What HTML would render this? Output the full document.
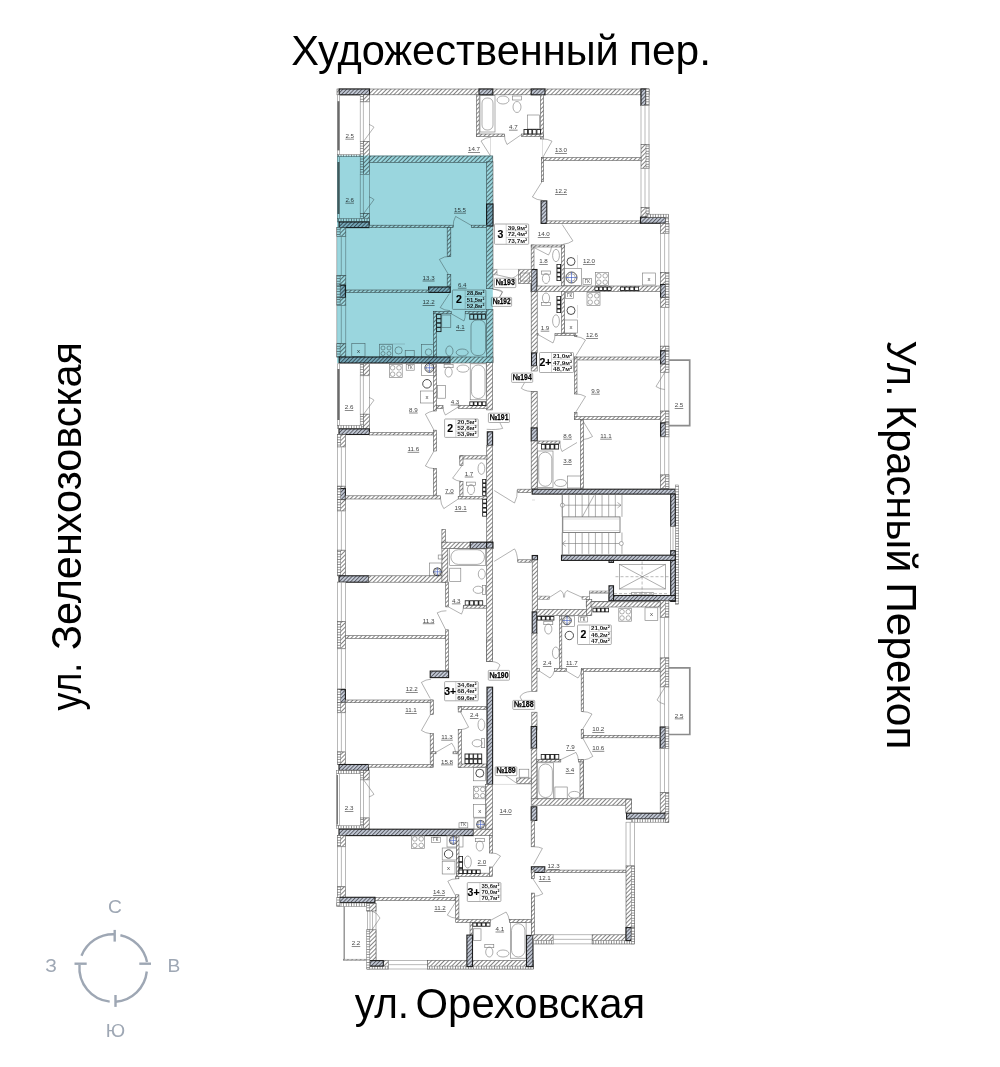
<!DOCTYPE html>
<html><head><meta charset="utf-8"><style>
html,body{margin:0;padding:0;background:#fff;}
body{width:1000px;height:1067px;overflow:hidden;position:relative;}
svg{position:absolute;left:0;top:0;}
.t{font-family:"Liberation Sans",sans-serif;fill:#000;}
.w{fill:url(#hatch);stroke:#5a5a5a;stroke-width:0.6;}
.insv{fill:url(#pinsv);stroke:#6a6a6a;stroke-width:0.5;}
.insh{fill:url(#pinsh);stroke:#6a6a6a;stroke-width:0.5;}
.p{fill:url(#hatch);stroke:#777;stroke-width:0.5;}
.d{fill:url(#dh);stroke:#1e1e1e;stroke-width:1.1;}
.win{fill:#fff;stroke:#8a8a8a;stroke-width:0.6;}
.l{stroke:#8a8a8a;stroke-width:0.6;fill:none;}
.fx{fill:none;stroke:#777;stroke-width:0.6;}
.g{stroke:#555;stroke-width:1.6;}
.g2{stroke:#888;stroke-width:1.3;}
.gl{fill:#6a6a6a;stroke:none;}
.thin{stroke:#bbb;stroke-width:0.5;}
.rad{fill:#fff;stroke:#222;stroke-width:0.9;}
.radb{fill:#222;stroke:none;}
.radi{fill:#fff;stroke:none;}
.fx2{fill:none;stroke:#222;stroke-width:0.8;}
.bl{stroke:#3050c0;stroke-width:0.6;}
.rail{fill:none;stroke:#8c8c8c;stroke-width:1.7;}
.st{stroke:#777;stroke-width:0.6;}
.st2{fill:none;stroke:#777;stroke-width:0.9;}
.dash{stroke:#777;stroke-width:0.5;stroke-dasharray:3 2;}
.gk{font-family:"Liberation Sans",sans-serif;font-size:4.5px;fill:#444;text-anchor:middle;}
.xx{font-family:"Liberation Sans",sans-serif;font-size:6px;fill:#444;text-anchor:middle;}
.dr{fill:none;stroke:#666;stroke-width:0.5;}
.rl{font-family:"Liberation Sans",sans-serif;font-size:6.2px;fill:#444;text-anchor:middle;text-decoration:underline;}
.nb{fill:#fff;stroke:#8a8a8a;stroke-width:0.7;}
.nt{font-family:"Liberation Sans",sans-serif;font-size:8.4px;font-weight:bold;fill:#000;stroke:#000;stroke-width:0.25;text-anchor:middle;}
.ib{fill:#fff;stroke:#888;stroke-width:0.7;}
.ibl{stroke:#aaa;stroke-width:0.5;}
.big{font-family:"Liberation Sans",sans-serif;font-size:10.5px;font-weight:bold;fill:#000;stroke:#000;stroke-width:0.15;text-anchor:middle;}
.it{font-family:"Liberation Sans",sans-serif;font-size:5.6px;font-weight:bold;fill:#222;text-anchor:middle;}
.cmp{stroke:#9ea7b4;stroke-width:2.4;fill:none;}
.ct{font-family:"Liberation Sans",sans-serif;font-size:19.2px;fill:#9ea7b4;text-anchor:middle;}
</style></head><body>
<svg width="1000" height="1067" viewBox="0 0 1000 1067">
<defs>
<pattern id="hatch" patternUnits="userSpaceOnUse" width="3" height="3" patternTransform="rotate(45)">
<rect width="3" height="3" fill="#fff"/><line x1="0.5" y1="0" x2="0.5" y2="3" stroke="#6e6e6e" stroke-width="0.85"/></pattern>
<pattern id="pinsv" patternUnits="userSpaceOnUse" width="3.4" height="2.6">
<rect width="3.4" height="2.6" fill="#fff"/><line x1="0" y1="0.4" x2="3.4" y2="0.4" stroke="#7a7a7a" stroke-width="0.8"/></pattern>
<pattern id="pinsh" patternUnits="userSpaceOnUse" width="2.6" height="3.4">
<rect width="2.6" height="3.4" fill="#fff"/><line x1="0.4" y1="0" x2="0.4" y2="3.4" stroke="#7a7a7a" stroke-width="0.8"/></pattern>
<pattern id="dh" patternUnits="userSpaceOnUse" width="2.7" height="2.7" patternTransform="rotate(45)">
<rect width="2.7" height="2.7" fill="#c3cad6"/><line x1="0.5" y1="0" x2="0.5" y2="2.7" stroke="#4a4d55" stroke-width="0.85"/></pattern>
</defs>
<g id="plan">
<rect x="337" y="89" width="312" height="5.8" class="w"/>
<rect x="339.2" y="89" width="30.3" height="5.8" class="d"/>
<rect x="479" y="89" width="13.8" height="5.8" class="d"/>
<rect x="531.2" y="89" width="13.8" height="5.8" class="d"/>
<rect x="337.4" y="94.8" width="2.2" height="127.2" class="win"/>
<rect x="337.4" y="101.2" width="2.1" height="49.2" class="gl"/>
<rect x="337.4" y="162" width="2.1" height="52" class="gl"/>
<rect x="360.2" y="94.8" width="3.2" height="7.1" class="insv"/>
<rect x="363.4" y="94.8" width="6.0" height="7.1" class="w"/>
<rect x="360.2" y="101.9" width="9.2" height="39.4" class="win"/>
<line x1="363.4" y1="101.9" x2="363.4" y2="141.3" class="l"/>
<rect x="360.2" y="141.3" width="3.2" height="33.0" class="insv"/>
<rect x="363.4" y="141.3" width="6.0" height="33.0" class="w"/>
<rect x="360.2" y="174.3" width="9.2" height="39.3" class="win"/>
<line x1="363.4" y1="174.3" x2="363.4" y2="213.6" class="l"/>
<rect x="360.2" y="213.6" width="3.2" height="8.4" class="insv"/>
<rect x="363.4" y="213.6" width="6.0" height="8.4" class="w"/>
<path d="M363.6,141.3 L374,127.2 A17.5,17.5 0 0 0 369,124.4" class="dr"/>
<path d="M363.6,213.6 L374,199.6 A17.4,17.4 0 0 0 369,196.8" class="dr"/>
<rect x="337.4" y="154.6" width="22.8" height="2.1" class="insh"/>
<rect x="337.4" y="218.6" width="31.9" height="3.0" class="insh"/>
<rect x="339.1" y="222" width="30.1" height="5.6" class="d"/>
<text x="349.7" y="137.8" class="rl">2.5</text>
<text x="349.7" y="201.8" class="rl">2.6</text>
<rect x="476.5" y="94.8" width="2.7" height="41.7" class="w"/>
<rect x="540.5" y="94.8" width="3.0" height="44.2" class="w"/>
<rect x="476.5" y="134" width="28.0" height="2.5" class="w"/>
<rect x="521.5" y="134" width="22.0" height="2.5" class="w"/>
<rect x="480" y="95.5" width="15" height="36.5" class="fx"/>
<rect x="482" y="98" width="11" height="32" rx="5" class="fx"/>
<ellipse cx="503" cy="100" rx="6" ry="4" class="fx"/>
<ellipse cx="517" cy="107" rx="4" ry="5.5" class="fx"/><rect x="512.5" y="96" width="9" height="4" class="fx"/>
<rect x="527.5" y="115" width="12.0" height="14" class="fx"/>
<rect x="524.0" y="129.5" width="3.6" height="4.5" class="rad"/>
<rect x="528.3" y="129.5" width="3.6" height="4.5" class="rad"/>
<rect x="532.6" y="129.5" width="3.6" height="4.5" class="rad"/>
<rect x="536.9" y="129.5" width="3.6" height="4.5" class="rad"/>
<path d="M521.5,134.5 L507,144.5 A17.6,17.6 0 0 1 504.5,134.5" class="dr"/>
<path d="M490.5,156 L481,141 A17.8,17.8 0 0 1 491.5,137" class="dr"/>
<line x1="490.5" y1="137" x2="490.5" y2="156" class="thin"/>
<line x1="542.5" y1="139" x2="542.5" y2="157" class="thin"/>
<path d="M543,157 L552,141.2 A18.2,18.2 0 0 0 542.5,139" class="dr"/>
<text x="474" y="151.1" class="rl">14.7</text>
<text x="513.3" y="128.8" class="rl">4.7</text>
<rect x="369.2" y="156" width="123.6" height="6.3" class="w"/>
<rect x="486.6" y="161.8" width="6.4" height="126.9" class="w"/>
<rect x="486.6" y="309.4" width="6.4" height="53.1" class="w"/>
<rect x="486.6" y="204" width="6.4" height="22" class="d"/>
<rect x="369.2" y="225.2" width="84.0" height="2.4" class="w"/>
<rect x="471.6" y="225.2" width="15.0" height="2.4" class="w"/>
<path d="M471.6,225.6 L455.6,216.4 A18.5,18.5 0 0 0 453.2,226.4" class="dr"/>
<rect x="447.2" y="227.6" width="3.6" height="28.8" class="w"/>
<rect x="447.2" y="274.4" width="3.6" height="12.6" class="w"/>
<path d="M448.4,274.4 L439.4,259.4 A17.5,17.5 0 0 1 450.2,256.4" class="dr"/>
<rect x="428.6" y="287" width="21.6" height="5.4" class="d"/>
<rect x="345.8" y="290" width="82.8" height="2.4" class="w"/>
<rect x="336.8" y="227.6" width="9.0" height="9.0" class="w"/>
<rect x="336.8" y="227.6" width="3.3" height="9.0" class="insv"/>
<rect x="336.8" y="236.6" width="9.0" height="39.0" class="win"/>
<line x1="341.3" y1="236.6" x2="341.3" y2="275.6" class="l"/>
<rect x="336.8" y="275.6" width="9.0" height="9.6" class="w"/>
<rect x="336.8" y="275.6" width="3.3" height="9.6" class="insv"/>
<rect x="336.8" y="285.2" width="9.0" height="12.6" class="w"/>
<rect x="339.6" y="285.2" width="5.8" height="12.6" class="d"/>
<rect x="336.8" y="285.2" width="3.3" height="12.6" class="insv"/>
<rect x="336.8" y="297.8" width="9.0" height="7.6" class="w"/>
<rect x="336.8" y="297.8" width="3.3" height="7.6" class="insv"/>
<rect x="336.8" y="305.4" width="9.0" height="38.4" class="win"/>
<line x1="341.3" y1="305.4" x2="341.3" y2="343.8" class="l"/>
<rect x="336.8" y="343.8" width="9.0" height="13.2" class="w"/>
<rect x="336.8" y="343.8" width="3.3" height="13.2" class="insv"/>
<text x="460" y="211.8" class="rl">15.5</text>
<text x="428.6" y="279.7" class="rl">13.3</text>
<text x="428.6" y="304.1" class="rl">12.2</text>
<text x="462.2" y="286.8" class="rl">6.4</text>
<text x="460.3" y="329.4" class="rl">4.1</text>
<rect x="433.4" y="311.6" width="3.0" height="45.4" class="w"/>
<rect x="433.4" y="311.6" width="17.8" height="2.2" class="w"/>
<rect x="465.2" y="311.3" width="21.4" height="2.5" class="w"/>
<rect x="436.6" y="314.4" width="4.4" height="4.0" class="rad"/>
<rect x="436.6" y="318.79999999999995" width="4.4" height="4.0" class="rad"/>
<rect x="436.6" y="323.2" width="4.4" height="4.0" class="rad"/>
<rect x="436.6" y="327.59999999999997" width="4.4" height="4.0" class="rad"/>
<rect x="441.8" y="315" width="9.0" height="12.6" class="fx"/>
<rect x="469.8" y="314.3" width="3.6" height="4.9" class="rad"/>
<rect x="473.8" y="314.3" width="3.6" height="4.9" class="rad"/>
<rect x="477.8" y="314.3" width="3.6" height="4.9" class="rad"/>
<rect x="481.8" y="314.3" width="3.6" height="4.9" class="rad"/>
<rect x="471" y="320" width="14.5" height="35.5" rx="6" class="fx"/>
<ellipse cx="449.4" cy="351" rx="3.6" ry="5" class="fx"/>
<ellipse cx="462.2" cy="352.5" rx="6" ry="3.5" class="fx"/>
<path d="M449.4,293.6 L440.2,307.6 A16.8,16.8 0 0 0 450,310.6" class="dr"/>
<path d="M451.2,313.7 L464,321 A14.7,14.7 0 0 0 465.2,313.7" class="dr"/>
<rect x="351.8" y="343.6" width="13.2" height="12.8" class="fx"/>
<text x="358.4" y="352.5" class="xx">x</text>
<rect x="379.4" y="344.4" width="13.2" height="12.0" class="fx"/>
<circle cx="383" cy="348" r="2" class="fx"/>
<circle cx="389" cy="348" r="2" class="fx"/>
<circle cx="383" cy="353.5" r="2" class="fx"/>
<circle cx="389" cy="353.5" r="2" class="fx"/>
<circle cx="398.6" cy="350.4" r="3.6" class="fx"/>
<rect x="405.2" y="350.4" width="9.0" height="6.0" class="fx"/>
<rect x="421.4" y="344.4" width="12.0" height="12.6" class="fx"/>
<circle cx="428.6" cy="352.2" r="3.3" class="fx"/>
<line x1="379.4" y1="344" x2="405" y2="344" class="thin"/>
<rect x="339.2" y="357" width="111.0" height="6" class="d"/>
<rect x="450.2" y="357" width="42.8" height="6" class="w"/>
<rect x="452.4" y="290" width="33.5" height="19.4" rx="0.8" class="ib"/>
<line x1="465.2" y1="290" x2="465.2" y2="309.4" class="ibl"/>
<line x1="465.2" y1="296.46666666666664" x2="485.9" y2="296.46666666666664" class="ibl"/>
<line x1="465.2" y1="302.93333333333334" x2="485.9" y2="302.93333333333334" class="ibl"/>
<text x="458.79999999999995" y="303.3" class="big">2</text>
<text x="475.54999999999995" y="295.26666666666665" class="it" textLength="17.7" lengthAdjust="spacingAndGlyphs">28,8м²</text>
<text x="475.54999999999995" y="301.73333333333335" class="it" textLength="17.7" lengthAdjust="spacingAndGlyphs">51,5м²</text>
<text x="475.54999999999995" y="308.2" class="it" textLength="17.7" lengthAdjust="spacingAndGlyphs">52,8м²</text>
<path d="M492.6,288.7 L502.3,291.8 A10.2,10.2 0 0 1 499.3,297.2" class="dr"/>
<rect x="641" y="89" width="8" height="16.5" class="w"/>
<rect x="641" y="89" width="5" height="16.5" class="d"/>
<rect x="646" y="89" width="3" height="16.5" class="insv"/>
<rect x="641" y="105.5" width="8" height="39.0" class="win"/>
<line x1="645.0" y1="105.5" x2="645.0" y2="144.5" class="l"/>
<rect x="641" y="144.5" width="8" height="24.0" class="w"/>
<rect x="646" y="144.5" width="3" height="24.0" class="insv"/>
<rect x="641" y="168.5" width="8" height="39.0" class="win"/>
<line x1="645.0" y1="168.5" x2="645.0" y2="207.5" class="l"/>
<rect x="641" y="207.5" width="8" height="9.7" class="w"/>
<rect x="646" y="207.5" width="3" height="9.7" class="insv"/>
<rect x="541.4" y="157.6" width="99.6" height="2.8" class="w"/>
<rect x="541.4" y="157.6" width="2.2" height="24.1" class="w"/>
<rect x="541.1" y="200.9" width="5.7" height="22.5" class="d"/>
<rect x="546.8" y="220.9" width="94.2" height="2.5" class="w"/>
<rect x="640.5" y="217.2" width="28.2" height="6.0" class="w"/>
<rect x="640.5" y="217.2" width="25.2" height="6.0" class="d"/>
<rect x="665.7" y="217.2" width="3.0" height="6.0" class="insv"/>
<text x="561" y="152.0" class="rl">13.0</text>
<text x="561" y="193.0" class="rl">12.2</text>
<text x="543.8" y="236.3" class="rl">14.0</text>
<path d="M542,181.7 L532.4,197 A18.1,18.1 0 0 0 542.5,200.3" class="dr"/>
<path d="M562.2,224.5 L572.9,240.8 A19.5,19.5 0 0 1 563.3,244.2" class="dr"/>
<rect x="494.5" y="224" width="34.2" height="20.3" rx="0.8" class="ib"/>
<line x1="506.2" y1="224" x2="506.2" y2="244.3" class="ibl"/>
<line x1="506.2" y1="230.76666666666668" x2="528.7" y2="230.76666666666668" class="ibl"/>
<line x1="506.2" y1="237.53333333333333" x2="528.7" y2="237.53333333333333" class="ibl"/>
<text x="500.35" y="237.75" class="big">3</text>
<text x="517.45" y="229.5666666666667" class="it" textLength="19.5" lengthAdjust="spacingAndGlyphs">39,9м²</text>
<text x="517.45" y="236.33333333333334" class="it" textLength="19.5" lengthAdjust="spacingAndGlyphs">72,4м²</text>
<text x="517.45" y="243.10000000000002" class="it" textLength="19.5" lengthAdjust="spacingAndGlyphs">73,7м²</text>
<rect x="647" y="214.2" width="21.7" height="3.0" class="insh"/>
<rect x="660.3" y="223.5" width="8.6" height="10.0" class="w"/>
<rect x="665.5" y="223.5" width="3.4" height="10.0" class="insv"/>
<rect x="660.3" y="233.5" width="8.6" height="39.0" class="win"/>
<line x1="664.5999999999999" y1="233.5" x2="664.5999999999999" y2="272.5" class="l"/>
<rect x="660.3" y="272.5" width="8.6" height="12.0" class="w"/>
<rect x="665.5" y="272.5" width="3.4" height="12.0" class="insv"/>
<rect x="660.3" y="284.5" width="8.6" height="13.2" class="w"/>
<rect x="660.6" y="284.5" width="4.9" height="13.2" class="d"/>
<rect x="665.5" y="284.5" width="3.4" height="13.2" class="insv"/>
<rect x="660.3" y="297.7" width="8.6" height="9.8" class="w"/>
<rect x="665.5" y="297.7" width="3.4" height="9.8" class="insv"/>
<rect x="660.3" y="307.5" width="8.6" height="38.7" class="win"/>
<line x1="664.5999999999999" y1="307.5" x2="664.5999999999999" y2="346.2" class="l"/>
<rect x="660.3" y="346.2" width="8.6" height="4.6" class="w"/>
<rect x="665.5" y="346.2" width="3.4" height="4.6" class="insv"/>
<rect x="660.3" y="350.8" width="8.6" height="13.4" class="w"/>
<rect x="660.6" y="350.8" width="4.9" height="13.4" class="d"/>
<rect x="665.5" y="350.8" width="3.4" height="13.4" class="insv"/>
<rect x="660.3" y="364.2" width="8.6" height="8.3" class="w"/>
<rect x="665.5" y="364.2" width="3.4" height="8.3" class="insv"/>
<rect x="660.3" y="372.5" width="8.6" height="38.6" class="win"/>
<line x1="664.5999999999999" y1="372.5" x2="664.5999999999999" y2="411.1" class="l"/>
<rect x="660.3" y="411.1" width="8.6" height="11.9" class="w"/>
<rect x="665.5" y="411.1" width="3.4" height="11.9" class="insv"/>
<rect x="660.3" y="423" width="8.6" height="13.9" class="w"/>
<rect x="660.6" y="423" width="4.9" height="13.9" class="d"/>
<rect x="665.5" y="423" width="3.4" height="13.9" class="insv"/>
<rect x="660.3" y="436.9" width="8.6" height="38.1" class="win"/>
<line x1="664.5999999999999" y1="436.9" x2="664.5999999999999" y2="475" class="l"/>
<rect x="660.3" y="475" width="8.6" height="13.5" class="w"/>
<rect x="665.5" y="475" width="3.4" height="13.5" class="insv"/>
<path d="M664.7,372.5 L656,386.5 A16.5,16.5 0 0 0 664.7,389.5" class="dr"/>
<rect x="531.2" y="245" width="2.8" height="24.5" class="w"/>
<rect x="531.2" y="269.5" width="5.8" height="22.0" class="d"/>
<rect x="531.2" y="291.5" width="6.0" height="61.5" class="w"/>
<rect x="531.5" y="353" width="5.0" height="13" class="d"/>
<rect x="531.2" y="366" width="6.0" height="5" class="w"/>
<rect x="531.2" y="391.5" width="6.0" height="36.5" class="w"/>
<rect x="531.2" y="428" width="6.0" height="13" class="d"/>
<rect x="531.2" y="441" width="6.0" height="48" class="w"/>
<rect x="531.2" y="245" width="33.3" height="2" class="w"/>
<rect x="561.5" y="245" width="3.0" height="41" class="w"/>
<rect x="537" y="286" width="123.3" height="5.5" class="w"/>
<rect x="594.5" y="286.6" width="17.0" height="4.3" class="radb"/>
<rect x="595.3" y="287.5" width="2.65" height="2.5" class="radi"/>
<rect x="599.55" y="287.5" width="2.65" height="2.5" class="radi"/>
<rect x="603.8" y="287.5" width="2.65" height="2.5" class="radi"/>
<rect x="608.05" y="287.5" width="2.65" height="2.5" class="radi"/>
<rect x="620" y="286.6" width="19" height="4.3" class="radb"/>
<rect x="620.8" y="287.5" width="3.15" height="2.5" class="radi"/>
<rect x="625.55" y="287.5" width="3.15" height="2.5" class="radi"/>
<rect x="630.3" y="287.5" width="3.15" height="2.5" class="radi"/>
<rect x="635.05" y="287.5" width="3.15" height="2.5" class="radi"/>
<rect x="561.5" y="291.5" width="3.0" height="42.5" class="w"/>
<rect x="537.2" y="333.5" width="0.8" height="2.0" class="w"/>
<rect x="555" y="333.5" width="20.5" height="2.0" class="w"/>
<path d="M534,247.5 L548.5,255 A16.3,16.3 0 0 0 551.5,246.8" class="dr"/>
<ellipse cx="556" cy="255.5" rx="3.4" ry="6.2" class="fx"/>
<g transform="translate(546,277.5) rotate(0)"><ellipse cx="0" cy="1" rx="3.6" ry="5" class="fx"/><rect x="-4.5" y="-6.5" width="9" height="3.2" class="fx"/></g>
<rect x="556.5" y="264" width="4.5" height="17" class="radb"/>
<rect x="557.4" y="264.8" width="2.7" height="2.65" class="radi"/>
<rect x="557.4" y="269.05" width="2.7" height="2.65" class="radi"/>
<rect x="557.4" y="273.3" width="2.7" height="2.65" class="radi"/>
<rect x="557.4" y="277.55" width="2.7" height="2.65" class="radi"/>
<circle cx="571" cy="261.5" r="4" class="fx2"/>
<line x1="577.5" y1="255" x2="577.5" y2="268" class="thin"/>
<rect x="564" y="268.5" width="17.5" height="17.0" class="fx"/>
<circle cx="571.5" cy="277.5" r="5.5" class="fx2"/><circle cx="571.5" cy="277.5" r="3.8" class="fx"/><line x1="566.0" y1="277.5" x2="577.0" y2="277.5" class="bl"/><line x1="571.5" y1="272.0" x2="571.5" y2="283.0" class="bl"/>
<rect x="583" y="278.5" width="8.5" height="6.0" class="fx"/>
<text x="587.25" y="283.0" class="gk">ГК</text>
<rect x="565.5" y="292.5" width="8.0" height="6.0" class="fx"/>
<text x="569.5" y="297.0" class="gk">ГК</text>
<rect x="595.5" y="272.5" width="13.0" height="13.0" class="fx"/>
<circle cx="598.8" cy="275.8" r="2.3" class="fx"/>
<circle cx="598.8" cy="282.2" r="2.3" class="fx"/>
<circle cx="605.2" cy="275.8" r="2.3" class="fx"/>
<circle cx="605.2" cy="282.2" r="2.3" class="fx"/>
<rect x="587" y="292.5" width="13" height="13.0" class="fx"/>
<circle cx="590.2" cy="295.8" r="2.3" class="fx"/>
<circle cx="590.2" cy="302.2" r="2.3" class="fx"/>
<circle cx="596.8" cy="295.8" r="2.3" class="fx"/>
<circle cx="596.8" cy="302.2" r="2.3" class="fx"/>
<rect x="642.5" y="273" width="13.0" height="12" class="fx"/>
<text x="649.0" y="281.0" class="xx">x</text>
<g transform="translate(546,299) rotate(180)"><ellipse cx="0" cy="1" rx="3.6" ry="5" class="fx"/><rect x="-4.5" y="-6.5" width="9" height="3.2" class="fx"/></g>
<rect x="556.5" y="296" width="4.5" height="17" class="radb"/>
<rect x="557.4" y="296.8" width="2.7" height="2.65" class="radi"/>
<rect x="557.4" y="301.05" width="2.7" height="2.65" class="radi"/>
<rect x="557.4" y="305.3" width="2.7" height="2.65" class="radi"/>
<rect x="557.4" y="309.55" width="2.7" height="2.65" class="radi"/>
<ellipse cx="556" cy="321" rx="3.4" ry="6.2" class="fx"/>
<circle cx="571" cy="310.5" r="4" class="fx2"/>
<line x1="577.5" y1="305" x2="577.5" y2="318" class="thin"/>
<rect x="564.5" y="320" width="13.0" height="13" class="fx"/>
<text x="571.0" y="328.5" class="xx">x</text>
<path d="M538,334.5 L553,343 A17.2,17.2 0 0 0 555,334.5" class="dr"/>
<text x="543.5" y="263.3" class="rl">1.8</text>
<text x="589" y="263.3" class="rl">12.0</text>
<text x="545" y="329.8" class="rl">1.9</text>
<text x="592" y="337.3" class="rl">12.6</text>
<rect x="574.5" y="335.5" width="2.5" height="1.0" class="w"/>
<path d="M576,355.5 L585.5,340 A18.2,18.2 0 0 0 575.5,336.5" class="dr"/>
<rect x="574.5" y="357" width="85.8" height="3" class="w"/>
<rect x="574.5" y="357" width="2.5" height="37" class="w"/>
<rect x="574.5" y="412.5" width="2.5" height="7.0" class="w"/>
<path d="M575.5,412.5 L585.5,396.5 A18.9,18.9 0 0 0 576,394" class="dr"/>
<rect x="574.5" y="416.5" width="85.8" height="3.0" class="w"/>
<rect x="580.5" y="419.5" width="3.0" height="69.0" class="w"/>
<path d="M582,419.5 L592.5,436.5 A20.0,20.0 0 0 1 583,439.5" class="dr"/>
<text x="595.5" y="392.8" class="rl">9.9</text>
<text x="567.5" y="437.8" class="rl">8.6</text>
<text x="606" y="437.8" class="rl">11.1</text>
<text x="567.5" y="463.1" class="rl">3.8</text>
<rect x="539.5" y="352.5" width="34.0" height="20.0" rx="0.8" class="ib"/>
<line x1="551.5" y1="352.5" x2="551.5" y2="372.5" class="ibl"/>
<line x1="551.5" y1="359.1666666666667" x2="573.5" y2="359.1666666666667" class="ibl"/>
<line x1="551.5" y1="365.8333333333333" x2="573.5" y2="365.8333333333333" class="ibl"/>
<text x="545.5" y="366.1" class="big">2+</text>
<text x="562.5" y="357.9666666666667" class="it" textLength="19.0" lengthAdjust="spacingAndGlyphs">21,0м²</text>
<text x="562.5" y="364.6333333333333" class="it" textLength="19.0" lengthAdjust="spacingAndGlyphs">47,9м²</text>
<text x="562.5" y="371.3" class="it" textLength="19.0" lengthAdjust="spacingAndGlyphs">48,7м²</text>
<rect x="537.2" y="441" width="22.8" height="2.5" class="w"/>
<rect x="541" y="444" width="18" height="5.5" class="radb"/>
<rect x="541.8" y="444.9" width="2.9" height="3.7" class="radi"/>
<rect x="546.3" y="444.9" width="2.9" height="3.7" class="radi"/>
<rect x="550.8" y="444.9" width="2.9" height="3.7" class="radi"/>
<rect x="555.3" y="444.9" width="2.9" height="3.7" class="radi"/>
<path d="M577,442.5 L562,451.5 A17.5,17.5 0 0 1 560,443.5" class="dr"/>
<rect x="537.5" y="451" width="15.5" height="36.5" class="fx"/>
<rect x="538.7" y="452.2" width="13.1" height="34.1" rx="6.5" class="fx"/>
<ellipse cx="560.5" cy="483" rx="6" ry="3.5" class="fx"/>
<rect x="567.5" y="476" width="13.0" height="12" class="fx"/>
<path d="M668.9,360.1 H689.7 V425.6 H668.9" class="rail"/>
<text x="679" y="407.1" class="rl">2.5</text>
<rect x="492.9" y="269.6" width="4.1" height="5.3" class="p"/>
<rect x="518.4" y="269.6" width="13.1" height="13.9" class="w"/>
<rect x="520.5" y="273" width="9.0" height="8" class="fx"/>
<line x1="520.5" y1="277" x2="529.5" y2="277" class="thin"/>
<line x1="492.5" y1="269.3" x2="531.5" y2="269.3" class="thin"/>
<path d="M497,274.9 L512,278.3 A15.4,15.4 0 0 0 518.4,274.1" class="dr"/>
<path d="M492.6,289.5 Q500,289 502.6,291.8 L499.3,297.4" class="dr"/>
<rect x="494.4" y="278.3" width="21.4" height="9.3" rx="0.8" class="nb"/>
<text x="505.09999999999997" y="285.1" class="nt" textLength="19.4" lengthAdjust="spacingAndGlyphs">№193</text>
<rect x="491.4" y="297.4" width="20.2" height="9.0" rx="0.8" class="nb"/>
<text x="501.5" y="303.9" class="nt" textLength="18.2" lengthAdjust="spacingAndGlyphs">№192</text>
<rect x="486.7" y="362.6" width="5.9" height="47.3" class="w"/>
<rect x="487.3" y="431.8" width="5.3" height="13.6" class="d"/>
<rect x="486.7" y="445.4" width="5.9" height="96.9" class="w"/>
<path d="M486.7,429.3 Q497,430 502.7,428.4 L499.8,422.5" class="dr"/>
<rect x="488.4" y="413.2" width="21.1" height="9.3" rx="0.8" class="nb"/>
<text x="498.95" y="420.0" class="nt" textLength="19.1" lengthAdjust="spacingAndGlyphs">№191</text>
<path d="M536.9,391.7 Q526,392 521.3,388.3 L524.7,382.4" class="dr"/>
<rect x="511.6" y="373.1" width="21.1" height="9.3" rx="0.8" class="nb"/>
<text x="522.1500000000001" y="379.9" class="nt" textLength="19.1" lengthAdjust="spacingAndGlyphs">№194</text>
<rect x="337.4" y="363.8" width="2.2" height="61.6" class="win"/>
<rect x="337.4" y="369" width="2.1" height="51" class="gl"/>
<rect x="360.2" y="363.8" width="3.2" height="12.0" class="insv"/>
<rect x="363.4" y="363.8" width="6.0" height="12.0" class="w"/>
<rect x="360.2" y="375.8" width="9.2" height="38.4" class="win"/>
<line x1="363.4" y1="375.8" x2="363.4" y2="414.2" class="l"/>
<rect x="360.2" y="414.2" width="3.2" height="14.7" class="insv"/>
<rect x="363.4" y="414.2" width="6.0" height="14.7" class="w"/>
<path d="M363.6,414.2 L374,400.2 A17.4,17.4 0 0 0 369,397.4" class="dr"/>
<rect x="337.4" y="425.4" width="24.0" height="3.2" class="insh"/>
<rect x="339" y="428.9" width="30.4" height="5.6" class="d"/>
<rect x="337.4" y="434.5" width="8.0" height="12.5" class="w"/>
<rect x="337.4" y="434.5" width="3.3" height="12.5" class="insv"/>
<rect x="337.4" y="447" width="8.0" height="39.2" class="win"/>
<line x1="341.4" y1="447" x2="341.4" y2="486.2" class="l"/>
<rect x="337.4" y="486.2" width="8.0" height="2.4" class="w"/>
<rect x="337.4" y="486.2" width="3.3" height="2.4" class="insv"/>
<rect x="337.4" y="488.6" width="8.0" height="11.2" class="w"/>
<rect x="339.6" y="488.6" width="5.8" height="11.2" class="d"/>
<rect x="337.4" y="488.6" width="3.3" height="11.2" class="insv"/>
<rect x="337.4" y="499.8" width="8.0" height="11.2" class="w"/>
<rect x="337.4" y="499.8" width="3.3" height="11.2" class="insv"/>
<rect x="337.4" y="511" width="8.0" height="39.2" class="win"/>
<line x1="341.4" y1="511" x2="341.4" y2="550.2" class="l"/>
<rect x="337.4" y="550.2" width="8.0" height="25.6" class="w"/>
<rect x="337.4" y="550.2" width="3.3" height="25.6" class="insv"/>
<rect x="369.4" y="432.6" width="64.0" height="2.4" class="w"/>
<rect x="433.4" y="363.8" width="3.2" height="47.2" class="w"/>
<rect x="433.4" y="430.2" width="3.2" height="20.8" class="w"/>
<rect x="433.4" y="468.6" width="3.2" height="28.0" class="w"/>
<path d="M434,430.2 L425.4,414.2 A18.2,18.2 0 0 1 433.4,411" class="dr"/>
<path d="M434,451 L425.4,466 A17.3,17.3 0 0 0 434,468.6" class="dr"/>
<rect x="345.4" y="495.8" width="95.2" height="3.2" class="w"/>
<rect x="458.2" y="496.6" width="28.8" height="2.4" class="w"/>
<path d="M458.2,499 L443.8,508.6 A17.3,17.3 0 0 1 440.6,499" class="dr"/>
<rect x="436.6" y="405.4" width="6.4" height="3.2" class="w"/>
<rect x="458.2" y="405.4" width="28.8" height="3.2" class="w"/>
<rect x="469.4" y="401.4" width="16.8" height="4.5" class="radb"/>
<rect x="470.2" y="402.29999999999995" width="2.6" height="2.7" class="radi"/>
<rect x="474.4" y="402.29999999999995" width="2.6" height="2.7" class="radi"/>
<rect x="478.6" y="402.29999999999995" width="2.6" height="2.7" class="radi"/>
<rect x="482.8" y="402.29999999999995" width="2.6" height="2.7" class="radi"/>
<rect x="470.2" y="363.8" width="16.0" height="36.0" class="fx"/>
<rect x="471.4" y="365.0" width="13.6" height="33.6" rx="6.8" class="fx"/>
<g transform="translate(448.6,371) rotate(0)"><ellipse cx="0" cy="1" rx="3.6" ry="5" class="fx"/><rect x="-4.5" y="-6.5" width="9" height="3.2" class="fx"/></g>
<ellipse cx="463" cy="368.6" rx="6" ry="3.6" class="fx"/>
<rect x="437.4" y="385.4" width="8.0" height="12.8" class="fx"/>
<path d="M458.2,407 L445.4,415 A15.1,15.1 0 0 1 443,407" class="dr"/>
<rect x="389.4" y="364.6" width="12.8" height="12.8" class="fx"/>
<circle cx="392.6" cy="367.8" r="2.3" class="fx"/>
<circle cx="392.6" cy="374.2" r="2.3" class="fx"/>
<circle cx="399.0" cy="367.8" r="2.3" class="fx"/>
<circle cx="399.0" cy="374.2" r="2.3" class="fx"/>
<rect x="406.2" y="364.6" width="8.0" height="5.6" class="fx"/>
<text x="410.2" y="368.7" class="gk">ГК</text>
<rect x="421.4" y="363.8" width="14.4" height="11.7" class="fx"/>
<circle cx="429.4" cy="367.8" r="4.5" class="fx2"/><circle cx="429.4" cy="367.8" r="3.1" class="fx"/><line x1="424.9" y1="367.8" x2="433.9" y2="367.8" class="bl"/><line x1="429.4" y1="363.3" x2="429.4" y2="372.3" class="bl"/>
<circle cx="427" cy="383.8" r="4.3" class="fx2"/>
<rect x="420.6" y="391" width="12.8" height="12" class="fx"/>
<text x="427.0" y="399.0" class="xx">x</text>
<rect x="459.8" y="455.8" width="27.2" height="3.2" class="w"/>
<rect x="459.8" y="455.8" width="3.2" height="9.6" class="w"/>
<rect x="459.8" y="481.4" width="3.2" height="15.2" class="w"/>
<ellipse cx="481.4" cy="468.6" rx="3.4" ry="5.8" class="fx"/>
<g transform="translate(471,488.6) rotate(0)"><ellipse cx="0" cy="1" rx="3.6" ry="5" class="fx"/><rect x="-4.5" y="-6.5" width="9" height="3.2" class="fx"/></g>
<rect x="482.2" y="479" width="4.0" height="16.8" class="radb"/>
<rect x="483.09999999999997" y="479.8" width="2.2" height="2.6" class="radi"/>
<rect x="483.09999999999997" y="484.0" width="2.2" height="2.6" class="radi"/>
<rect x="483.09999999999997" y="488.2" width="2.2" height="2.6" class="radi"/>
<rect x="483.09999999999997" y="492.4" width="2.2" height="2.6" class="radi"/>
<path d="M462.2,465.4 L452.6,478.2 A16.0,16.0 0 0 0 461.4,481.4" class="dr"/>
<rect x="444.6" y="419" width="33.6" height="18.4" rx="0.8" class="ib"/>
<line x1="455.8" y1="419" x2="455.8" y2="437.4" class="ibl"/>
<line x1="455.8" y1="425.1333333333333" x2="478.2" y2="425.1333333333333" class="ibl"/>
<line x1="455.8" y1="431.26666666666665" x2="478.2" y2="431.26666666666665" class="ibl"/>
<text x="450.20000000000005" y="431.8" class="big">2</text>
<text x="467.0" y="423.93333333333334" class="it" textLength="19.4" lengthAdjust="spacingAndGlyphs">20,5м²</text>
<text x="467.0" y="430.06666666666666" class="it" textLength="19.4" lengthAdjust="spacingAndGlyphs">52,6м²</text>
<text x="467.0" y="436.2" class="it" textLength="19.4" lengthAdjust="spacingAndGlyphs">53,9м²</text>
<text x="349.1" y="409.3" class="rl">2.6</text>
<text x="413.4" y="411.7" class="rl">8.9</text>
<text x="413.4" y="450.9" class="rl">11.6</text>
<text x="455" y="403.7" class="rl">4.3</text>
<text x="469" y="475.7" class="rl">1.7</text>
<text x="449.4" y="492.5" class="rl">7.0</text>
<text x="460.6" y="510.1" class="rl">19.1</text>
<rect x="482.2" y="499" width="4.8" height="17.6" class="radb"/>
<rect x="483.09999999999997" y="499.8" width="3.0" height="2.8" class="radi"/>
<rect x="483.09999999999997" y="504.2" width="3.0" height="2.8" class="radi"/>
<rect x="483.09999999999997" y="508.6" width="3.0" height="2.8" class="radi"/>
<rect x="483.09999999999997" y="513.0" width="3.0" height="2.8" class="radi"/>
<rect x="339" y="575.8" width="29.6" height="6.4" class="d"/>
<rect x="368.6" y="575.8" width="78.4" height="6.4" class="w"/>
<rect x="441.9" y="542.2" width="5.9" height="40.0" class="w"/>
<rect x="441.9" y="529.4" width="3.5" height="12.8" class="w"/>
<rect x="441.9" y="542.2" width="50.7" height="6.4" class="w"/>
<rect x="470.2" y="542.2" width="22.4" height="6.4" class="d"/>
<rect x="486.6" y="542.3" width="6.3" height="5.9" class="d"/>
<rect x="429.4" y="563" width="12.5" height="12.8" class="fx"/>
<circle cx="437.4" cy="571.8" r="4" class="fx2"/><circle cx="437.4" cy="571.8" r="2.8" class="fx"/><line x1="433.4" y1="571.8" x2="441.4" y2="571.8" class="bl"/><line x1="437.4" y1="567.8" x2="437.4" y2="575.8" class="bl"/>
<rect x="438.2" y="555" width="4.0" height="4" class="fx"/>
<rect x="449.7" y="548.5" width="36.0" height="17.1" class="fx"/>
<rect x="450.9" y="549.7" width="33.6" height="14.7" rx="7.4" class="fx"/>
<rect x="449.7" y="568.2" width="11.1" height="13.1" class="fx"/>
<ellipse cx="481.8" cy="574.1" rx="3.5" ry="5" class="fx"/>
<g transform="translate(479.2,589.8) rotate(90)"><ellipse cx="0" cy="1" rx="3.6" ry="5" class="fx"/><rect x="-4.5" y="-6.5" width="9" height="3.2" class="fx"/></g>
<rect x="464.8" y="600.3" width="18.3" height="5.3" class="radb"/>
<rect x="465.6" y="601.1999999999999" width="2.97" height="3.5" class="radi"/>
<rect x="470.18" y="601.1999999999999" width="2.97" height="3.5" class="radi"/>
<rect x="474.75" y="601.1999999999999" width="2.98" height="3.5" class="radi"/>
<rect x="479.33" y="601.1999999999999" width="2.97" height="3.5" class="radi"/>
<rect x="463.4" y="605.6" width="23.2" height="2.6" class="w"/>
<rect x="445.7" y="582.2" width="2.7" height="24.7" class="w"/>
<rect x="445.7" y="629.8" width="2.7" height="41.3" class="w"/>
<path d="M448.4,606.9 L461.5,614.1 A14.9,14.9 0 0 0 463.4,606.2" class="dr"/>
<path d="M445.7,629.8 L437.2,612.8 A19.0,19.0 0 0 1 446.4,610.8" class="dr"/>
<rect x="345.4" y="635.7" width="100.3" height="2.7" class="w"/>
<rect x="486.6" y="548.2" width="6.0" height="113.1" class="w"/>
<text x="456.2" y="602.6" class="rl">4.3</text>
<text x="428.6" y="622.5" class="rl">11.3</text>
<rect x="337.4" y="582.2" width="8.0" height="0.1" class="w"/>
<rect x="337.4" y="582.2" width="3.3" height="0.1" class="insv"/>
<rect x="337.4" y="582.2" width="8.0" height="39.2" class="win"/>
<line x1="341.4" y1="582.2" x2="341.4" y2="621.4" class="l"/>
<rect x="337.4" y="621.4" width="8.0" height="27.4" class="w"/>
<rect x="337.4" y="621.4" width="3.3" height="27.4" class="insv"/>
<rect x="337.4" y="648.8" width="8.0" height="40.0" class="win"/>
<line x1="341.4" y1="648.8" x2="341.4" y2="688.8" class="l"/>
<rect x="337.4" y="689.6" width="8.0" height="12.8" class="w"/>
<rect x="339.6" y="689.6" width="5.8" height="12.8" class="d"/>
<rect x="337.4" y="689.6" width="3.3" height="12.8" class="insv"/>
<rect x="337.4" y="702.4" width="8.0" height="10.4" class="w"/>
<rect x="337.4" y="702.4" width="3.3" height="10.4" class="insv"/>
<rect x="337.4" y="712.8" width="8.0" height="39.2" class="win"/>
<line x1="341.4" y1="712.8" x2="341.4" y2="752" class="l"/>
<rect x="337.4" y="752" width="8.0" height="12.5" class="w"/>
<rect x="337.4" y="752" width="3.3" height="12.5" class="insv"/>
<rect x="430.2" y="671.1" width="18.4" height="6.5" class="d"/>
<path d="M430.2,698.4 L421.4,682.4 A18.3,18.3 0 0 1 431,679.2" class="dr"/>
<rect x="345.4" y="700" width="87.2" height="2.7" class="w"/>
<rect x="430.2" y="700" width="3.2" height="14.4" class="w"/>
<rect x="430.2" y="733.6" width="3.2" height="33.6" class="w"/>
<path d="M430.5,714.4 L421.4,730.4 A18.4,18.4 0 0 0 430.2,733.6" class="dr"/>
<rect x="339" y="764.5" width="29.6" height="5.9" class="d"/>
<rect x="368.6" y="764.5" width="64.0" height="2.7" class="w"/>
<rect x="431" y="751.8" width="5" height="2.0" class="w"/>
<rect x="453" y="751.8" width="5.2" height="2.0" class="w"/>
<path d="M435,752.8 L451.8,743.2 A19.3,19.3 0 0 1 455.8,752.8" class="dr"/>
<rect x="458.2" y="706.4" width="28.0" height="3.2" class="w"/>
<rect x="458.2" y="706.4" width="3.2" height="5.6" class="w"/>
<rect x="458.2" y="729.6" width="3.2" height="37.6" class="w"/>
<rect x="458.2" y="764" width="28.8" height="3.2" class="w"/>
<path d="M460.6,712 L468.6,727.2 A17.2,17.2 0 0 1 461,729.6" class="dr"/>
<ellipse cx="481.4" cy="724.8" rx="3.4" ry="5.8" class="fx"/>
<g transform="translate(478.2,743.2) rotate(90)"><ellipse cx="0" cy="1" rx="3.6" ry="5" class="fx"/><rect x="-4.5" y="-6.5" width="9" height="3.2" class="fx"/></g>
<rect x="465.0" y="754.0" width="3.8" height="4.4" class="rad"/>
<rect x="469.3" y="754.0" width="3.8" height="4.4" class="rad"/>
<rect x="473.6" y="754.0" width="3.8" height="4.4" class="rad"/>
<rect x="477.9" y="754.0" width="3.8" height="4.4" class="rad"/>
<rect x="465.0" y="759.2" width="3.8" height="4.4" class="rad"/>
<rect x="469.3" y="759.2" width="3.8" height="4.4" class="rad"/>
<rect x="473.6" y="759.2" width="3.8" height="4.4" class="rad"/>
<rect x="477.9" y="759.2" width="3.8" height="4.4" class="rad"/>
<rect x="486.6" y="640" width="6.0" height="21.3" class="w"/>
<rect x="487" y="687.2" width="5.6" height="97.2" class="d"/>
<path d="M486.6,661.3 Q497,661 500,665 L497,671" class="dr"/>
<rect x="488.3" y="670.4" width="21.2" height="9.8" rx="0.8" class="nb"/>
<text x="498.9" y="677.7" class="nt" textLength="19.2" lengthAdjust="spacingAndGlyphs">№190</text>
<rect x="444.6" y="681.6" width="33.6" height="19.2" rx="0.8" class="ib"/>
<line x1="455.8" y1="681.6" x2="455.8" y2="700.8" class="ibl"/>
<line x1="455.8" y1="688.0" x2="478.2" y2="688.0" class="ibl"/>
<line x1="455.8" y1="694.4" x2="478.2" y2="694.4" class="ibl"/>
<text x="450.20000000000005" y="694.8000000000001" class="big">3+</text>
<text x="467.0" y="686.8" class="it" textLength="19.4" lengthAdjust="spacingAndGlyphs">34,6м²</text>
<text x="467.0" y="693.1999999999999" class="it" textLength="19.4" lengthAdjust="spacingAndGlyphs">68,4м²</text>
<text x="467.0" y="699.5999999999999" class="it" textLength="19.4" lengthAdjust="spacingAndGlyphs">69,6м²</text>
<text x="411.8" y="691.1" class="rl">12.2</text>
<text x="411" y="712.3" class="rl">11.1</text>
<text x="447" y="738.8" class="rl">11.3</text>
<text x="447" y="763.6" class="rl">15.8</text>
<text x="474.2" y="717.2" class="rl">2.4</text>
<rect x="336.7" y="773.7" width="2.7" height="52.1" class="win"/>
<rect x="336.7" y="775" width="1.2" height="49.5" class="gl"/>
<rect x="336.7" y="770.4" width="26.8" height="3.3" class="insh"/>
<rect x="360.4" y="770.4" width="3.1" height="9.5" class="insv"/>
<rect x="363.5" y="770.4" width="5.7" height="9.5" class="w"/>
<rect x="360.4" y="779.9" width="8.8" height="38.1" class="win"/>
<line x1="363.5" y1="779.9" x2="363.5" y2="818" class="l"/>
<rect x="360.4" y="818" width="3.1" height="11.2" class="insv"/>
<rect x="363.5" y="818" width="5.7" height="11.2" class="w"/>
<path d="M363.6,779.9 L374,794.3 A17.8,17.8 0 0 1 369,796.9" class="dr"/>
<rect x="336.7" y="825.8" width="26.8" height="2.8" class="insh"/>
<rect x="339" y="829.2" width="134.4" height="6.4" class="d"/>
<rect x="473.4" y="829.2" width="19.2" height="6.4" class="w"/>
<rect x="485.4" y="784.4" width="7.2" height="44.8" class="w"/>
<rect x="337.4" y="835.6" width="8.0" height="11.2" class="w"/>
<rect x="337.4" y="835.6" width="3.3" height="11.2" class="insv"/>
<rect x="337.4" y="846.8" width="8.0" height="40.0" class="win"/>
<line x1="341.4" y1="846.8" x2="341.4" y2="886.8" class="l"/>
<rect x="337.4" y="886.8" width="8.0" height="10.5" class="w"/>
<rect x="337.4" y="886.8" width="3.3" height="10.5" class="insv"/>
<circle cx="479.8" cy="773.2" r="4" class="fx2"/>
<rect x="473.4" y="767.2" width="12.0" height="13.6" class="fx"/>
<rect x="473.4" y="786.2" width="12.6" height="12.6" class="fx"/>
<circle cx="476.5" cy="789.4" r="2.3" class="fx"/>
<circle cx="476.5" cy="795.7" r="2.3" class="fx"/>
<circle cx="482.8" cy="789.4" r="2.3" class="fx"/>
<circle cx="482.8" cy="795.7" r="2.3" class="fx"/>
<rect x="473.4" y="804.4" width="12.8" height="12.8" class="fx"/>
<text x="479.79999999999995" y="812.8" class="xx">x</text>
<rect x="459" y="822.8" width="8.8" height="5.1" class="fx"/>
<text x="463.4" y="826.4" class="gk">ГК</text>
<rect x="474" y="818" width="12" height="11" class="fx"/>
<circle cx="480.6" cy="824.4" r="4" class="fx2"/><circle cx="480.6" cy="824.4" r="2.8" class="fx"/><line x1="476.6" y1="824.4" x2="484.6" y2="824.4" class="bl"/><line x1="480.6" y1="820.4" x2="480.6" y2="828.4" class="bl"/>
<rect x="411.5" y="835.6" width="13.0" height="13.0" class="fx"/>
<circle cx="414.8" cy="838.9" r="2.3" class="fx"/>
<circle cx="414.8" cy="845.4" r="2.3" class="fx"/>
<circle cx="421.2" cy="838.9" r="2.3" class="fx"/>
<circle cx="421.2" cy="845.4" r="2.3" class="fx"/>
<rect x="431.5" y="837.2" width="8.8" height="5.1" class="fx"/>
<text x="435.9" y="840.8" class="gk">ГК</text>
<rect x="447" y="835.6" width="16" height="11.4" class="fx"/>
<circle cx="453.4" cy="840.4" r="4" class="fx2"/><circle cx="453.4" cy="840.4" r="2.8" class="fx"/><line x1="449.4" y1="840.4" x2="457.4" y2="840.4" class="bl"/><line x1="453.4" y1="836.4" x2="453.4" y2="844.4" class="bl"/>
<rect x="442.2" y="848" width="14.4" height="12" class="fx"/>
<circle cx="448.6" cy="854" r="4.2" class="fx2"/>
<rect x="442.2" y="861.2" width="12.8" height="12.8" class="fx"/>
<text x="448.6" y="869.6" class="xx">x</text>
<rect x="456.6" y="835.6" width="2.4" height="40.8" class="w"/>
<rect x="456.6" y="873.2" width="32.8" height="3.2" class="w"/>
<rect x="489.4" y="835.6" width="3.2" height="17.4" class="w"/>
<rect x="489.4" y="867" width="3.2" height="9.4" class="w"/>
<g transform="translate(479.8,845) rotate(0)"><ellipse cx="0" cy="1" rx="3.6" ry="5" class="fx"/><rect x="-4.5" y="-6.5" width="9" height="3.2" class="fx"/></g>
<ellipse cx="467.8" cy="862" rx="3.5" ry="6" class="fx"/>
<rect x="458.6" y="856" width="4.4" height="18" class="radb"/>
<rect x="459.5" y="856.8" width="2.6" height="4.4" class="radi"/>
<rect x="459.5" y="862.8" width="2.6" height="4.4" class="radi"/>
<rect x="459.5" y="868.8" width="2.6" height="4.4" class="radi"/>
<rect x="458.6" y="869.5" width="22.0" height="4.5" class="radb"/>
<rect x="459.4" y="870.4" width="2.8" height="2.7" class="radi"/>
<rect x="463.8" y="870.4" width="2.8" height="2.7" class="radi"/>
<rect x="468.2" y="870.4" width="2.8" height="2.7" class="radi"/>
<rect x="472.6" y="870.4" width="2.8" height="2.7" class="radi"/>
<rect x="477.0" y="870.4" width="2.8" height="2.7" class="radi"/>
<path d="M492.6,867 L500.5,856 A13.5,13.5 0 0 0 491,853" class="dr"/>
<rect x="455.7" y="876.4" width="3.2" height="2.4" class="w"/>
<rect x="455.7" y="894.8" width="3.2" height="23.5" class="w"/>
<path d="M455,894.8 L447.8,881.2 A15.4,15.4 0 0 1 456.6,878.8" class="dr"/>
<path d="M456.8,900.4 L447.3,915.1 A17.5,17.5 0 0 0 456.8,918.3" class="dr"/>
<rect x="374.9" y="897.3" width="80.8" height="3.1" class="w"/>
<rect x="339.6" y="897.3" width="35.3" height="5.2" class="d"/>
<rect x="336.8" y="903" width="38.1" height="3.4" class="insh"/>
<rect x="336.8" y="897.3" width="3.0" height="9.1" class="insv"/>
<line x1="344.2" y1="906.4" x2="344.2" y2="960.3" class="g2"/>
<rect x="343.4" y="959.2" width="24.1" height="1.1" class="p"/>
<rect x="367.5" y="903.6" width="8.5" height="58.8" class="win"/>
<line x1="370" y1="911" x2="370" y2="930" class="l"/>
<line x1="372.5" y1="911" x2="372.5" y2="930" class="l"/>
<rect x="367.5" y="903.6" width="8.5" height="7.4" class="w"/>
<rect x="367.5" y="929.8" width="8.5" height="32.6" class="w"/>
<path d="M372,929.8 L380,918 A14.3,14.3 0 0 0 372,911" class="dr"/>
<rect x="367.5" y="960.3" width="21.0" height="8.7" class="w"/>
<rect x="367.5" y="966.1" width="21.0" height="2.9" class="insh"/>
<rect x="388.5" y="960.3" width="38.9" height="8.7" class="win"/>
<line x1="388.5" y1="964.65" x2="427.4" y2="964.65" class="l"/>
<rect x="427.4" y="960.3" width="106.0" height="8.7" class="w"/>
<rect x="427.4" y="966.1" width="106.0" height="2.9" class="insh"/>
<rect x="369.8" y="960.6" width="13.5" height="5.5" class="d"/>
<rect x="366.6" y="903.6" width="3.2" height="7.4" class="insv"/>
<rect x="366.6" y="929.8" width="3.2" height="39.2" class="insv"/>
<rect x="455.7" y="919.3" width="34.7" height="3.2" class="w"/>
<rect x="509.3" y="919.3" width="22.0" height="3.2" class="w"/>
<rect x="470" y="922.5" width="2.5" height="12.6" class="w"/>
<rect x="466.9" y="935.1" width="5.6" height="31.5" class="d"/>
<rect x="472.5" y="922.5" width="17.9" height="4.2" class="radb"/>
<rect x="473.3" y="923.4" width="2.88" height="2.4" class="radi"/>
<rect x="477.78" y="923.4" width="2.87" height="2.4" class="radi"/>
<rect x="482.25" y="923.4" width="2.87" height="2.4" class="radi"/>
<rect x="486.72" y="923.4" width="2.88" height="2.4" class="radi"/>
<rect x="473.6" y="928.8" width="7.4" height="11.5" class="fx"/>
<g transform="translate(489.3,951) rotate(0)"><ellipse cx="0" cy="1" rx="3.6" ry="5" class="fx"/><rect x="-4.5" y="-6.5" width="9" height="3.2" class="fx"/></g>
<ellipse cx="503" cy="953.5" rx="6" ry="3.5" class="fx"/>
<rect x="510.3" y="922.5" width="15.8" height="35.7" class="fx"/>
<rect x="511.5" y="923.7" width="13.4" height="33.3" rx="6.7" class="fx"/>
<rect x="526.5" y="935.4" width="6.5" height="31.2" class="d"/>
<path d="M490.4,920.4 L506.1,912 A17.8,17.8 0 0 1 509.3,920.4" class="dr"/>
<rect x="467.3" y="882.6" width="33.6" height="18.9" rx="0.8" class="ib"/>
<line x1="479.9" y1="882.6" x2="479.9" y2="901.5" class="ibl"/>
<line x1="479.9" y1="888.9" x2="500.9" y2="888.9" class="ibl"/>
<line x1="479.9" y1="895.2" x2="500.9" y2="895.2" class="ibl"/>
<text x="473.6" y="895.65" class="big">3+</text>
<text x="490.4" y="887.6999999999999" class="it" textLength="18.0" lengthAdjust="spacingAndGlyphs">35,6м²</text>
<text x="490.4" y="894.0" class="it" textLength="18.0" lengthAdjust="spacingAndGlyphs">70,0м²</text>
<text x="490.4" y="900.3" class="it" textLength="18.0" lengthAdjust="spacingAndGlyphs">70,7м²</text>
<text x="349.1" y="810.2" class="rl">2.3</text>
<text x="439" y="894.3" class="rl">14.3</text>
<text x="440" y="910.1" class="rl">11.2</text>
<text x="481.9" y="864.0" class="rl">2.0</text>
<text x="356" y="945.4" class="rl">2.2</text>
<text x="499.8" y="930.7" class="rl">4.1</text>
<rect x="532.2" y="489.2" width="143.1" height="4.9" class="d"/>
<rect x="517.8" y="489.2" width="13.8" height="3.3" class="w"/>
<path d="M494.2,490.5 L514.5,503 A23.8,23.8 0 0 0 517.2,489.8" class="dr"/>
<line x1="532" y1="500" x2="535" y2="500" class="thin"/>
<rect x="675.3" y="485" width="3.4" height="119.6" class="insv"/>
<rect x="670.7" y="494.1" width="4.6" height="32.5" class="d"/>
<rect x="670.7" y="526.6" width="4.6" height="24.1" class="win"/>
<line x1="673.0" y1="526.6" x2="673.0" y2="550.7" class="l"/>
<rect x="670.7" y="550.7" width="4.6" height="50.7" class="d"/>
<line x1="562.2" y1="494.1" x2="562.2" y2="516.9" class="st"/>
<line x1="562.2" y1="532.5" x2="562.2" y2="553.9" class="st"/>
<line x1="568.84" y1="494.1" x2="568.84" y2="516.9" class="st"/>
<line x1="568.84" y1="532.5" x2="568.84" y2="553.9" class="st"/>
<line x1="575.48" y1="494.1" x2="575.48" y2="516.9" class="st"/>
<line x1="575.48" y1="532.5" x2="575.48" y2="553.9" class="st"/>
<line x1="582.12" y1="494.1" x2="582.12" y2="516.9" class="st"/>
<line x1="582.12" y1="532.5" x2="582.12" y2="553.9" class="st"/>
<line x1="588.76" y1="494.1" x2="588.76" y2="516.9" class="st"/>
<line x1="588.76" y1="532.5" x2="588.76" y2="553.9" class="st"/>
<line x1="595.4000000000001" y1="494.1" x2="595.4000000000001" y2="516.9" class="st"/>
<line x1="595.4000000000001" y1="532.5" x2="595.4000000000001" y2="553.9" class="st"/>
<line x1="602.0400000000001" y1="494.1" x2="602.0400000000001" y2="516.9" class="st"/>
<line x1="602.0400000000001" y1="532.5" x2="602.0400000000001" y2="553.9" class="st"/>
<line x1="608.6800000000001" y1="494.1" x2="608.6800000000001" y2="516.9" class="st"/>
<line x1="608.6800000000001" y1="532.5" x2="608.6800000000001" y2="553.9" class="st"/>
<line x1="615.32" y1="494.1" x2="615.32" y2="516.9" class="st"/>
<line x1="615.32" y1="532.5" x2="615.32" y2="553.9" class="st"/>
<line x1="621.96" y1="494.1" x2="621.96" y2="516.9" class="st"/>
<line x1="621.96" y1="532.5" x2="621.96" y2="553.9" class="st"/>
<rect x="562.8" y="516.9" width="57.2" height="15.6" class="st2"/>
<line x1="562.8" y1="519" x2="620" y2="519" class="thin"/>
<line x1="562.8" y1="530.5" x2="620" y2="530.5" class="thin"/>
<line x1="562.2" y1="505.2" x2="621" y2="505.2" class="st"/>
<path d="M617.5,502.5 L621,505.2 L617.5,507.9" class="st" fill="none"/>
<circle cx="562.4" cy="505.2" r="2" class="st" fill="#fff"/>
<line x1="621" y1="543.5" x2="562.2" y2="543.5" class="st"/>
<path d="M565.7,540.8 L562.2,543.5 L565.7,546.2" class="st" fill="none"/>
<circle cx="621.3" cy="543.5" r="2" class="st" fill="#fff"/>
<line x1="594" y1="495.4" x2="582.3" y2="516.9" class="st"/>
<line x1="562.4" y1="494.1" x2="562.4" y2="555.2" class="st"/>
<rect x="561.5" y="555.2" width="113.8" height="5.2" class="d"/>
<rect x="609" y="560.4" width="4.5" height="2.0" class="d"/>
<rect x="532.2" y="555.5" width="5.3" height="4.5" class="d"/>
<rect x="517.8" y="559.8" width="13.8" height="2.4" class="w"/>
<path d="M494.2,561.4 L514.5,548.9 Q517,552 517.8,561.4" class="dr"/>
<rect x="619.4" y="564.3" width="46.1" height="24.7" class="fx"/>
<line x1="619.4" y1="564.3" x2="665.5" y2="589" class="fx"/>
<line x1="665.5" y1="564.3" x2="619.4" y2="589" class="fx"/>
<line x1="615.5" y1="576.7" x2="669.5" y2="576.7" class="dash"/>
<line x1="642.1" y1="561.5" x2="642.1" y2="594.5" class="dash"/>
<line x1="614" y1="593.6" x2="667" y2="593.6" class="dash"/>
<rect x="631.7" y="592.3" width="21.5" height="2.6" class="fx"/>
<rect x="609" y="595.5" width="66.3" height="5.2" class="d"/>
<rect x="609" y="585.8" width="4.5" height="14.9" class="d"/>
<rect x="586.2" y="601.4" width="80.6" height="5.2" class="w"/>
<rect x="589.5" y="591" width="18.8" height="2" class="p"/>
<rect x="589.5" y="593" width="18.8" height="8.4" class="fx"/>
<rect x="532.2" y="560" width="5.3" height="52.5" class="w"/>
<rect x="532.2" y="611.9" width="4.6" height="21.3" class="d"/>
<rect x="537.5" y="596.1" width="11.8" height="3.3" class="p"/>
<rect x="582" y="596.5" width="7.5" height="2.9" class="p"/>
<path d="M549.3,597.5 L560.3,590.5 Q564,592 563.5,597.5" class="dr"/><path d="M582,597.3 L567,590.5 Q564,592 564.5,597.5" class="dr"/>
<rect x="537" y="609.3" width="54" height="6.0" class="w"/>
<rect x="586.5" y="599.4" width="5.3" height="15.9" class="w"/>
<rect x="591" y="601.8" width="69.8" height="5.2" class="w"/>
<rect x="592.5" y="607.8" width="16.5" height="4.5" class="radb"/>
<rect x="593.3" y="608.6999999999999" width="2.53" height="2.7" class="radi"/>
<rect x="597.42" y="608.6999999999999" width="2.53" height="2.7" class="radi"/>
<rect x="601.55" y="608.6999999999999" width="2.53" height="2.7" class="radi"/>
<rect x="605.67" y="608.6999999999999" width="2.53" height="2.7" class="radi"/>
<rect x="531.8" y="633.2" width="5.2" height="58.1" class="w"/>
<rect x="531.8" y="712.2" width="5.2" height="17.8" class="w"/>
<rect x="537" y="616" width="17.3" height="4.5" class="radb"/>
<rect x="537.8" y="616.9" width="2.73" height="2.7" class="radi"/>
<rect x="542.12" y="616.9" width="2.73" height="2.7" class="radi"/>
<rect x="546.45" y="616.9" width="2.72" height="2.7" class="radi"/>
<rect x="550.77" y="616.9" width="2.73" height="2.7" class="radi"/>
<rect x="561" y="616" width="13.5" height="10.5" class="fx"/>
<circle cx="567" cy="620.5" r="4.3" class="fx2"/><circle cx="567" cy="620.5" r="3.0" class="fx"/><line x1="562.7" y1="620.5" x2="571.3" y2="620.5" class="bl"/><line x1="567" y1="616.2" x2="567" y2="624.8" class="bl"/>
<rect x="578.3" y="616.8" width="9.0" height="5.2" class="fx"/>
<text x="582.8" y="620.5" class="gk">ГК</text>
<rect x="618.8" y="608.5" width="12.7" height="12.7" class="fx"/>
<circle cx="622.0" cy="611.7" r="2.3" class="fx"/>
<circle cx="622.0" cy="618.0" r="2.3" class="fx"/>
<circle cx="628.3" cy="611.7" r="2.3" class="fx"/>
<circle cx="628.3" cy="618.0" r="2.3" class="fx"/>
<rect x="645" y="607.8" width="12.8" height="12.7" class="fx"/>
<text x="651.4" y="616.15" class="xx">x</text>
<g transform="translate(548.3,628) rotate(0)"><ellipse cx="0" cy="1" rx="3.6" ry="5" class="fx"/><rect x="-4.5" y="-6.5" width="9" height="3.2" class="fx"/></g>
<circle cx="569.3" cy="635.5" r="4.2" class="fx2"/>
<ellipse cx="555.8" cy="652.8" rx="3.4" ry="5.8" class="fx"/>
<rect x="559.5" y="616" width="2.3" height="52.5" class="w"/>
<rect x="537" y="668.5" width="2.3" height="3.0" class="w"/>
<rect x="554.3" y="668.5" width="12.0" height="3.0" class="w"/>
<rect x="581.3" y="668.5" width="78.7" height="3.0" class="w"/>
<path d="M539.3,671 L550,678 A12.8,12.8 0 0 0 554.3,671" class="dr"/>
<path d="M566.3,671 L578,678 A13.6,13.6 0 0 0 581.3,671" class="dr"/>
<rect x="577.5" y="625" width="33.8" height="19.5" rx="0.8" class="ib"/>
<line x1="589.5" y1="625" x2="589.5" y2="644.5" class="ibl"/>
<line x1="589.5" y1="631.5" x2="611.3" y2="631.5" class="ibl"/>
<line x1="589.5" y1="638.0" x2="611.3" y2="638.0" class="ibl"/>
<text x="583.5" y="638.35" class="big">2</text>
<text x="600.4" y="630.3" class="it" textLength="18.8" lengthAdjust="spacingAndGlyphs">21,0м²</text>
<text x="600.4" y="636.8" class="it" textLength="18.8" lengthAdjust="spacingAndGlyphs">46,2м²</text>
<text x="600.4" y="643.3" class="it" textLength="18.8" lengthAdjust="spacingAndGlyphs">47,0м²</text>
<text x="547.2" y="665.3" class="rl">2.4</text>
<text x="571.8" y="665.3" class="rl">11.7</text>
<rect x="660.2" y="600.7" width="8.6" height="16.8" class="w"/>
<rect x="665.4" y="600.7" width="3.4" height="16.8" class="insv"/>
<rect x="660.2" y="617.5" width="8.6" height="40.5" class="win"/>
<line x1="664.5" y1="617.5" x2="664.5" y2="658" class="l"/>
<rect x="660.2" y="658" width="8.6" height="29" class="w"/>
<rect x="665.4" y="658" width="3.4" height="29" class="insv"/>
<rect x="660.2" y="687" width="8.6" height="40.1" class="win"/>
<line x1="664.5" y1="687" x2="664.5" y2="727.1" class="l"/>
<rect x="660.2" y="727.1" width="8.6" height="21.3" class="w"/>
<rect x="660.2" y="727.1" width="5.1" height="21.3" class="d"/>
<rect x="665.4" y="727.1" width="3.4" height="21.3" class="insv"/>
<rect x="660.2" y="748.4" width="8.6" height="44.3" class="win"/>
<line x1="664.5" y1="748.4" x2="664.5" y2="792.7" class="l"/>
<rect x="660.2" y="792.7" width="8.6" height="20.5" class="w"/>
<rect x="665.4" y="792.7" width="3.4" height="20.5" class="insv"/>
<path d="M664.5,687.8 L657,700 A14.3,14.3 0 0 0 664.5,704.2" class="dr"/>
<path d="M668.8,667.8 H689.8 V734.5 H668.8" class="rail"/>
<text x="679.1" y="717.6" class="rl">2.5</text>
<rect x="581.2" y="669.4" width="2.3" height="42.2" class="w"/>
<rect x="581.2" y="729.6" width="2.3" height="9.0" class="w"/>
<rect x="581.2" y="760" width="2.3" height="39.3" class="w"/>
<path d="M582.3,729.6 L592,714 A18.4,18.4 0 0 0 582.3,711.6" class="dr"/>
<path d="M583.2,738.8 L592.8,756.4 A20.0,20.0 0 0 1 583.2,760" class="dr"/>
<rect x="583.5" y="735.3" width="76.7" height="2.5" class="w"/>
<text x="598.3" y="731.4" class="rl">10.2</text>
<text x="598.3" y="749.9" class="rl">10.6</text>
<text x="570.4" y="749.1" class="rl">7.9</text>
<text x="569.9" y="772.3" class="rl">3.4</text>
<path d="M531.8,691.3 Q522,692 520,697 L522,700.4" class="dr"/>
<rect x="512.8" y="700.4" width="21.9" height="9.0" rx="0.8" class="nb"/>
<text x="523.75" y="706.9" class="nt" textLength="19.9" lengthAdjust="spacingAndGlyphs">№188</text>
<rect x="531.2" y="726.5" width="5.4" height="21.8" class="d"/>
<rect x="531.2" y="748.3" width="5.6" height="50.7" class="w"/>
<rect x="536.8" y="759.6" width="24.0" height="2.4" class="w"/>
<rect x="578.4" y="759.6" width="4.8" height="2.4" class="w"/>
<rect x="540.8" y="754" width="18.4" height="5.6" class="radb"/>
<rect x="541.6" y="754.9" width="3.0" height="3.8" class="radi"/>
<rect x="546.2" y="754.9" width="3.0" height="3.8" class="radi"/>
<rect x="550.8" y="754.9" width="3.0" height="3.8" class="radi"/>
<rect x="555.4" y="754.9" width="3.0" height="3.8" class="radi"/>
<path d="M560.8,759.6 L576,752.4 A16.8,16.8 0 0 1 578.4,760.4" class="dr"/>
<rect x="537.6" y="762.8" width="16.0" height="36.0" class="fx"/>
<rect x="538.8000000000001" y="764.0" width="13.6" height="33.6" rx="6.8" class="fx"/>
<rect x="554.9" y="787" width="12.3" height="11.8" class="fx"/>
<ellipse cx="574.4" cy="794.8" rx="5.8" ry="3.4" class="fx"/>
<rect x="580" y="762" width="3.2" height="37" class="w"/>
<rect x="531.2" y="798.8" width="100.4" height="6.4" class="w"/>
<rect x="625.8" y="799.3" width="5.8" height="13.9" class="w"/>
<rect x="626.6" y="813.2" width="38.6" height="5.8" class="d"/>
<rect x="631.6" y="819" width="37.2" height="3.2" class="insh"/>
<rect x="665.2" y="813.2" width="3.6" height="9.0" class="w"/>
<rect x="495.2" y="766.8" width="21.6" height="8.8" rx="0.8" class="nb"/>
<text x="506.0" y="773.1" class="nt" textLength="19.6" lengthAdjust="spacingAndGlyphs">№189</text>
<rect x="516.8" y="778" width="14.4" height="5.6" class="w"/>
<rect x="519.2" y="769.2" width="9.6" height="8.0" class="fx"/>
<path d="M516,782.8 L505.6,775.6" class="dr"/>
<line x1="492.8" y1="784.4" x2="531.2" y2="784.4" class="thin"/>
<rect x="531.2" y="806.8" width="5.6" height="13.6" class="d"/>
<rect x="531.2" y="820.4" width="3.2" height="26.4" class="w"/>
<rect x="531.4" y="872.4" width="2.3" height="5.8" class="w"/>
<rect x="531.4" y="896.4" width="2.3" height="39.0" class="w"/>
<path d="M533.6,864.4 L542.4,848.4 A18.3,18.3 0 0 0 534.4,846.8" class="dr"/>
<path d="M532.5,878.2 L542.8,893.8 A18.7,18.7 0 0 1 533,896.4" class="dr"/>
<rect x="531.4" y="866.8" width="13.4" height="5.6" class="d"/>
<rect x="544.7" y="870.1" width="81.3" height="2.3" class="w"/>
<rect x="533" y="934.8" width="20.2" height="9.1" class="w"/>
<rect x="533" y="940.5" width="20.2" height="3.4" class="insh"/>
<rect x="553.2" y="934.8" width="39.0" height="9.1" class="win"/>
<line x1="553.2" y1="939.3499999999999" x2="592.2" y2="939.3499999999999" class="l"/>
<rect x="592.2" y="934.8" width="42.2" height="9.1" class="w"/>
<rect x="592.2" y="940.5" width="42.2" height="3.4" class="insh"/>
<rect x="626" y="822.2" width="8.4" height="43.8" class="win"/>
<line x1="630.2" y1="822.2" x2="630.2" y2="866" class="l"/>
<rect x="626" y="866" width="8.4" height="61.6" class="w"/>
<rect x="631.4" y="866" width="3.0" height="61.6" class="insv"/>
<rect x="626" y="927.6" width="8.4" height="13.0" class="w"/>
<rect x="626" y="927.6" width="5.4" height="13.0" class="d"/>
<rect x="631.4" y="927.6" width="3.0" height="13.0" class="insv"/>
<rect x="631.4" y="934.8" width="3.0" height="9.1" class="insv"/>
<rect x="531.3" y="870" width="3.2" height="8.4" class="w"/>
<rect x="531.3" y="893.1" width="3.2" height="41.9" class="w"/>
<text x="505.6" y="813.1" class="rl">14.0</text>
<text x="553.6" y="868.3" class="rl">12.3</text>
<text x="544.8" y="880.3" class="rl">12.1</text>
</g>
<rect x="337" y="155.5" width="155.8" height="207.4" fill="#9ad6de" style="mix-blend-mode:multiply"/>
<text class="t" x="291.2" y="65.1" font-size="43" textLength="327.6" lengthAdjust="spacingAndGlyphs">Художественный</text>
<text class="t" x="629" y="65.1" font-size="43" textLength="82" lengthAdjust="spacingAndGlyphs">пер.</text>
<text class="t" x="354.8" y="1018.2" font-size="43" textLength="54.2" lengthAdjust="spacingAndGlyphs">ул.</text>
<text class="t" x="415.6" y="1018.2" font-size="43" textLength="229.6" lengthAdjust="spacingAndGlyphs">Ореховская</text>
<g transform="translate(81,0) rotate(-90)">
<text class="t" x="-710.6" y="0" font-size="43" textLength="47.8" lengthAdjust="spacingAndGlyphs">ул.</text>
<text class="t" x="-650" y="0" font-size="43" textLength="308" lengthAdjust="spacingAndGlyphs">Зеленхозовская</text>
</g>
<g transform="translate(887,0) rotate(90)">
<text class="t" x="340.4" y="0" font-size="43" textLength="56" lengthAdjust="spacingAndGlyphs">Ул.</text>
<text class="t" x="405" y="0" font-size="43" textLength="167.4" lengthAdjust="spacingAndGlyphs">Красный</text>
<text class="t" x="582.2" y="0" font-size="43" textLength="167.4" lengthAdjust="spacingAndGlyphs">Перекоп</text>
</g>
<g id="compass">
<path class="cmp" d="M81.5,955.8 A34,34 0 0 1 114.2,934.2"/>
<path class="cmp" d="M120.4,935.2 A34,34 0 0 1 147,962"/>
<path class="cmp" d="M146.8,971.5 A34,34 0 0 1 115.5,1001.8"/>
<path class="cmp" d="M109.7,1001.6 A34,34 0 0 1 79.5,965"/>
<line class="cmp" x1="114.7" y1="929.9" x2="114.7" y2="941.6" stroke-width="3"/>
<line class="cmp" x1="139.3" y1="963.7" x2="151" y2="963.7" stroke-width="3"/>
<line class="cmp" x1="115.5" y1="995" x2="115.5" y2="1006.9" stroke-width="3"/>
<line class="cmp" x1="74.5" y1="963.7" x2="86.7" y2="963.7" stroke-width="3"/>
<text class="ct" x="115" y="913.2">С</text>
<text class="ct" x="51" y="972">З</text>
<text class="ct" x="174" y="972">В</text>
<text class="ct" x="115.5" y="1037">Ю</text>
</g>
</svg>
</body></html>
